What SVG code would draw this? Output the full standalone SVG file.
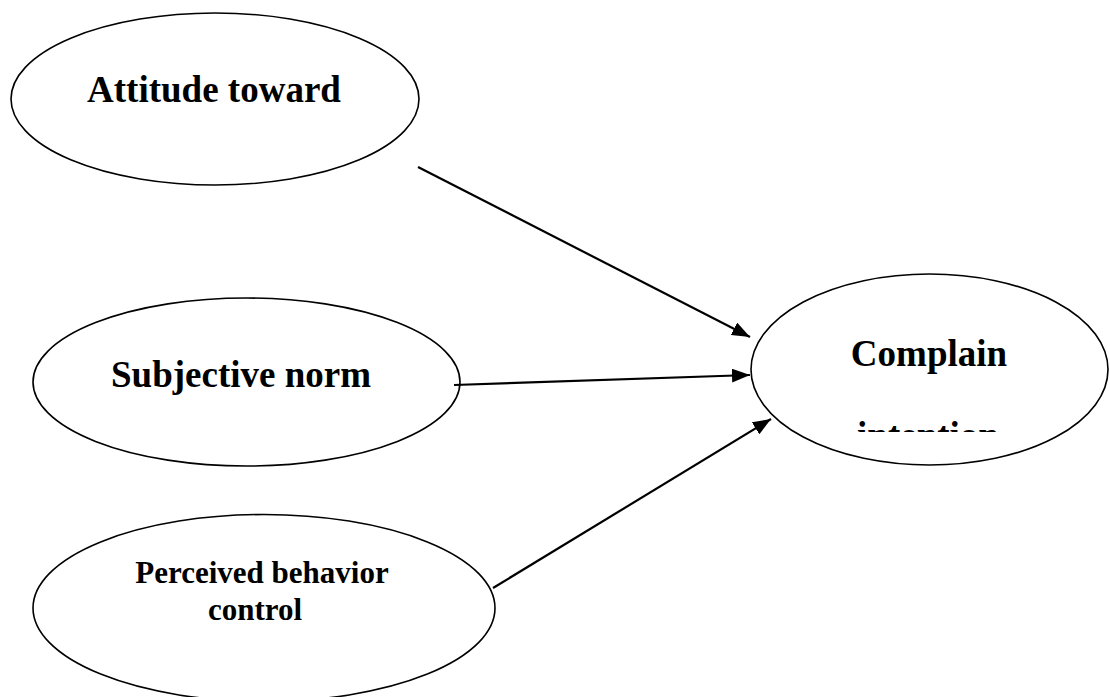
<svg xmlns="http://www.w3.org/2000/svg" width="1110" height="697" viewBox="0 0 1110 697">
<style>
.node ellipse{fill:#fff;stroke:#000;stroke-width:1.6}
.lbl{font-family:"Liberation Serif","Times New Roman",serif;font-weight:bold;fill:#000;text-anchor:middle}
.big{font-size:37px}
.small{font-size:31px}
.conn line{stroke:#000;stroke-width:2.2;fill:none}
</style>
<defs>
<marker id="arrow" markerUnits="userSpaceOnUse" markerWidth="18" markerHeight="14" refX="18" refY="7" orient="auto">
<path d="M0,0 L18,7 L0,14 Z" fill="#000"/>
</marker>
<clipPath id="clipInt"><rect x="740" y="380" width="370" height="52"/></clipPath>
</defs>
<rect width="1110" height="697" fill="#fff"/>
<g id="attitude" class="node">
<ellipse cx="215" cy="99" rx="204" ry="86"/>
<text class="lbl big" x="214" y="102">Attitude toward</text>
</g>
<g id="subjective" class="node">
<ellipse cx="246.5" cy="382" rx="213.5" ry="84"/>
<text class="lbl big" x="241" y="387">Subjective norm</text>
</g>
<g id="complain" class="node">
<ellipse cx="929.5" cy="369.5" rx="178.5" ry="95.5"/>
<text class="lbl big" x="929" y="366">Complain</text>
<text class="lbl big" x="928" y="448" clip-path="url(#clipInt)">intention</text>
</g>
<g id="perceived" class="node">
<ellipse cx="264" cy="608" rx="231" ry="93.5"/>
<text class="lbl small" x="262" y="583">Perceived behavior</text>
<text class="lbl small" x="255" y="620">control</text>
</g>
<g id="connectors" class="conn">
<line x1="418" y1="167" x2="750" y2="337" marker-end="url(#arrow)"/>
<line x1="454" y1="385" x2="750" y2="375" marker-end="url(#arrow)"/>
<line x1="493" y1="588" x2="771" y2="419" marker-end="url(#arrow)"/>
</g>
</svg>
